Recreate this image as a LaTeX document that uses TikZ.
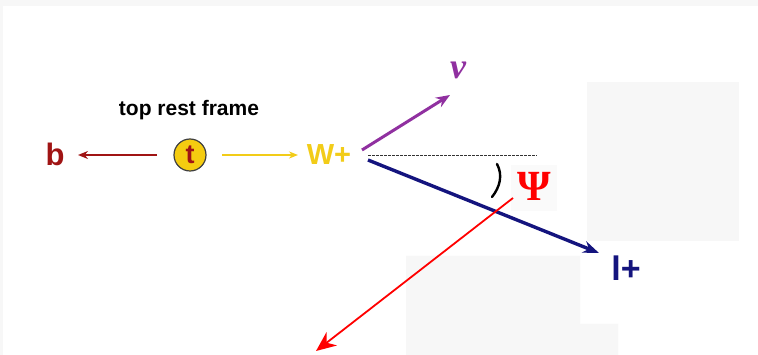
\documentclass[tikz,border=0pt]{standalone}
\usepackage{fontspec}
\setmainfont{Liberation Sans}
\newfontfamily\serifface{Liberation Serif}
\usetikzlibrary{arrows.meta}
\definecolor{bgray}{HTML}{F7F7F7}
\definecolor{bred}{HTML}{A01414}
\definecolor{tyel}{HTML}{F5CC10}
\definecolor{wyel}{HTML}{F2CC18}
\definecolor{nupur}{HTML}{9030A0}
\definecolor{lnavy}{HTML}{14147E}
\definecolor{psired}{HTML}{FF0000}
\tikzset{
  lbl/.style={inner sep=0pt, font=\bfseries},
}
\begin{document}
\begin{tikzpicture}[x=1pt,y=-1pt]
\useasboundingbox (0,0) rectangle (758,355);
% background
\fill[bgray] (0,0) rectangle (758,355);
\fill[white] (3,6) rectangle (758,355);
\fill[bgray] (587,82) rectangle (739,241);
\fill[bgray] (406,256) -- (580,256) -- (580,324) -- (618,324) -- (618,355) -- (406,355) -- cycle;
\fill[bgray!60!white] (511,165) rectangle (557,211);
% labels
\node[lbl, text=black, font=\bfseries\fontsize{21}{24}\selectfont] (title) at (189,110) {top rest frame};
\node[lbl, text=bred, font=\bfseries\fontsize{31}{33}\selectfont] (b) at (55,154) {b};
\node[circle, draw=black!75, line width=1.2pt, fill=tyel, minimum size=32pt, inner sep=0pt,
      text=bred, font=\bfseries\fontsize{27}{29}\selectfont] (t) at (190,155) {t};
\node[lbl, text=wyel, font=\bfseries\fontsize{29}{31}\selectfont] (W) at (329,155) {W+};
\node[lbl, text=nupur, font=\serifface\bfseries\itshape\fontsize{36}{38}\selectfont] (nu) at (458,70) {ν};
\node[lbl, text=lnavy, font=\bfseries\fontsize{34}{36}\selectfont] (l) at (626,268) {l+};
\node[lbl, text=psired, font=\serifface\bfseries\fontsize{43}{45}\selectfont] (psi) at (534,186) {Ψ};
% connector end points
\coordinate (tw) at (222,155);
\coordinate (tw2) at (298,155);
\coordinate (tb) at (157,155);
\coordinate (tb2) at (78,155);
\coordinate (wn) at (362,150);
\coordinate (wn2) at (450,95);
\coordinate (wd) at (368,155);
\coordinate (wd2) at (537,155);
\coordinate (wl) at (368,160);
\coordinate (wl2) at (599,253);
\coordinate (ps) at (513,198);
\coordinate (ps2) at (316,351);
% connectors
\draw[bred, line width=2.4pt, -{Stealth[length=10pt,width=8pt]}] (tb) -- (tb2);
\draw[wyel, line width=2pt, -{Stealth[length=9pt,width=7pt]}] (tw) -- (tw2);
\draw[nupur, line width=3pt, -{Stealth[length=14pt,width=11pt]}] (wn) -- (wn2);
\draw[black!80, line width=0.7pt, dash pattern=on 2.5pt off 1.5pt] (wd) -- (wd2);
\draw[lnavy, line width=3.4pt, -{Stealth[length=16pt,width=12pt]}] (wl) -- (wl2);
\draw[black, line width=2.4pt, line cap=round] (497,164) .. controls (503,175) and (500,187) .. (492,197);
\draw[psired, line width=1.8pt, -{Stealth[length=20pt,width=17pt]}] (ps) -- (ps2);
\end{tikzpicture}
\end{document}
